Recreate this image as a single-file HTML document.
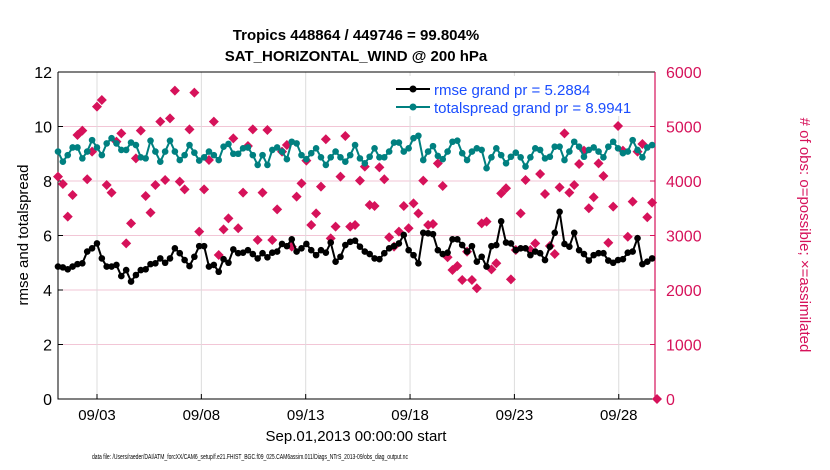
<!DOCTYPE html>
<html><head><meta charset="utf-8"><style>
body{margin:0;background:#fff;}
svg{display:block;font-family:"Liberation Sans",sans-serif;}
</style></head><body>
<svg id="chart" width="830" height="470">
<text x="356" y="40" text-anchor="middle" font-size="15" font-weight="bold">Tropics 448864 / 449746 = 99.804%</text>
<text x="356" y="61" text-anchor="middle" font-size="15" font-weight="bold">SAT_HORIZONTAL_WIND @ 200 hPa</text>
<g id="grid"></g>
<g id="axes"></g>
<g id="marks"></g>
<g>
<rect x="390" y="76" width="264" height="40" fill="#fff"/>
<line x1="396" y1="89" x2="430" y2="89" stroke="#000" stroke-width="2"/>
<circle cx="413" cy="89" r="3.5" fill="#000"/>
<text x="434" y="95" font-size="15" fill="#1a4dff">rmse grand pr = 5.2884</text>
<line x1="396" y1="107" x2="430" y2="107" stroke="#008080" stroke-width="2"/>
<circle cx="413" cy="107" r="3.5" fill="#008080"/>
<text x="434" y="113" font-size="15" fill="#1a4dff">totalspread grand pr = 8.9941</text>
</g>
<text transform="translate(28,235) rotate(-90)" text-anchor="middle" font-size="15">rmse and totalspread</text>
<text transform="translate(800,235) rotate(90)" text-anchor="middle" font-size="15" fill="#d6125a"># of obs: o=possible; ×=assimilated</text>
<text x="356" y="441" text-anchor="middle" font-size="15">Sep.01,2013 00:00:00 start</text>
<text x="92" y="459" font-size="7" textLength="316" lengthAdjust="spacingAndGlyphs">data file: /Users/raeder/DAI/ATM_forcXX/CAM6_setup/f.e21.FHIST_BGC.f09_025.CAM6assim.011/Diags_NTrS_2013-09/obs_diag_output.nc</text>
</svg>
<script>
const rmse=[4.86,4.83,4.76,4.86,4.95,4.98,5.41,5.53,5.71,5.16,4.86,4.86,4.92,4.51,4.73,4.31,4.55,4.73,4.76,4.95,4.98,5.16,5.0,5.16,5.53,5.35,5.1,4.88,5.22,5.61,5.61,4.86,4.92,4.67,5.13,5.0,5.49,5.35,5.37,5.46,5.32,5.16,
5.35,5.20,5.37,5.41,5.69,5.61,5.86,5.41,5.53,5.69,5.46,5.28,5.46,5.37,5.74,5.04,5.22,5.65,5.77,5.81,5.59,5.41,5.32,5.16,5.13,5.35,5.53,5.61,5.71,6.02,5.46,5.28,4.98,6.10,6.08,6.05,5.46,5.32,5.37,5.86,5.86,5.65,
5.41,5.61,5.04,5.22,4.86,5.61,5.65,6.52,5.74,5.71,5.46,5.53,5.53,5.28,5.41,5.35,5.10,5.59,6.10,6.87,5.69,5.59,6.10,5.46,5.32,5.08,5.28,5.35,5.35,5.08,5.0,5.10,5.13,5.37,5.41,5.90,4.95,5.04,5.16];
const spread=[9.08,8.71,8.95,9.23,9.23,8.83,9.08,9.50,9.23,8.95,9.38,9.57,9.38,9.14,9.14,9.41,9.32,8.87,8.83,9.48,9.08,8.71,9.08,9.48,9.08,8.77,8.95,9.32,9.04,8.75,8.87,9.08,8.95,8.77,9.26,9.36,9.0,9.0,9.20,9.23,8.95,8.59,
8.95,8.59,9.14,9.23,9.08,8.80,9.44,9.38,8.95,8.80,9.02,9.20,8.87,8.59,8.87,9.08,8.87,8.71,8.95,9.32,8.83,8.65,8.89,9.20,8.87,8.87,9.08,9.41,9.41,9.08,9.20,9.57,9.66,8.77,9.08,9.28,8.92,8.80,9.08,9.44,9.48,9.02,
8.77,9.08,9.20,9.14,8.47,8.87,9.20,8.95,8.65,8.89,9.04,8.87,8.53,8.87,9.20,9.14,8.83,8.89,9.26,9.26,8.77,9.08,9.44,9.26,8.89,9.14,9.23,9.08,8.87,9.26,9.44,9.20,9.02,9.08,9.50,9.14,8.87,9.23,9.32];
const nobs=[4080,3945,3346,3743,4844,4924,4031,4538,5364,5486,3927,3786,4722,4875,2856,3223,4416,4924,3725,3419,3927,5089,4018,5150,5658,3988,3847,4948,5621,3070,3847,4385,5089,2642,3113,3315,4783,3132,3786,4642,4948,2918,
3786,4936,2918,3480,4538,4661,2795,3713,3957,4373,3193,3407,3896,4765,2948,3162,4080,4826,3162,3193,4006,4263,3560,3541,4251,4031,2967,2795,3070,3541,3132,3590,3407,4006,3193,3211,4324,3908,2600,2367,2440,2184,
2703,2184,2031,3223,3254,2379,2490,3774,3866,2196,2734,3407,4018,2734,2856,4129,3762,2807,2661,3884,4875,3786,3927,4312,4557,3499,3701,4324,4092,2868,3529,5009,4557,2978,3621,4538,4679,3334,3603,0];
const yTicks=[0,2,4,6,8,10,12];
const y2Ticks=[0,1000,2000,3000,4000,5000,6000];
const dateTicks=[2,7,12,17,22,27];
const dateLabels=["09/03","09/08","09/13","09/18","09/23","09/28"];
const L=58,R=655,T=72,B=399;
const NS="http://www.w3.org/2000/svg";
const xd=d=>97+(d-2)*20.87;
const y=v=>B-(v/12)*(B-T);
const y2=v=>B-(v/6000)*(B-T);
function mk(tag,at,parent){const e=document.createElementNS(NS,tag);for(const k in at)e.setAttribute(k,at[k]);parent.appendChild(e);return e;}
const grid=document.getElementById('grid'),axes=document.getElementById('axes'),marks=document.getElementById('marks');
yTicks.forEach(v=>{if(v>0&&v<12){const l=mk('line',{x1:L,x2:R,y1:y(v),y2:y(v),stroke:'#f2c6d6','stroke-width':1},grid);

}
mk('line',{x1:L,x2:L+5,y1:y(v),y2:y(v),stroke:'#000'},axes);
const t=mk('text',{x:L-6,y:y(v)+6,'text-anchor':'end','font-size':16},axes);t.textContent=v;

});
y2Ticks.forEach(v=>{mk('line',{x1:R-5,x2:R,y1:y2(v),y2:y2(v),stroke:'#d6125a'},axes);
const t=mk('text',{x:R+11,y:y2(v)+6,'font-size':16,fill:'#d6125a'},axes);t.textContent=v;

});
dateTicks.forEach((d,k)=>{const l=mk('line',{x1:xd(d),x2:xd(d),y1:T,y2:B,stroke:'#dcdcdc'},grid);


mk('line',{x1:xd(d),x2:xd(d),y1:B,y2:B-5,stroke:'#000'},axes);
const t=mk('text',{x:xd(d),y:B+21,'text-anchor':'middle','font-size':15},axes);t.textContent=dateLabels[k];

});
mk('path',{d:`M${L},${T}H${R}M${L},${T}V${B}H${R}`,stroke:'#000',fill:'none','stroke-width':1},axes);
mk('line',{x1:R,x2:R,y1:T,y2:B,stroke:'#d6125a','stroke-width':1.2},axes);
const xs=i=>L+i*4.87;
nobs.forEach((v,i)=>{const cx=xs(i),cy=y2(v);
const d=mk('path',{d:`M${cx},${cy-5}L${cx+5},${cy}L${cx},${cy+5}L${cx-5},${cy}Z`,fill:'#d6125a'},marks);

});
function series(vals,col,name){
const p=mk('polyline',{points:vals.map((v,i)=>xs(i)+','+y(v)).join(' '),fill:'none',stroke:col,'stroke-width':2},marks);


vals.forEach((v,i)=>{const c=mk('circle',{cx:xs(i),cy:y(v),r:3.3,fill:col},marks);

});}
series(spread,'#008080','totalspread');
series(rmse,'#000','rmse');
</script>
</body></html>
